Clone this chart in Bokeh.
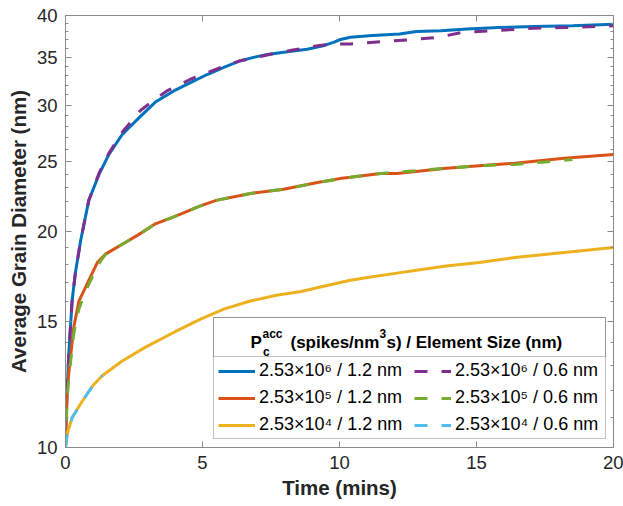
from bokeh.plotting import figure
from bokeh.models import (FixedTicker, LinearAxis, LogAxis, Legend, LegendItem, Label,
                          BoxAnnotation, NumeralTickFormatter, Range1d, CustomLabelingPolicy)
from bokeh.embed import file_html
from bokeh.resources import INLINE

# ---------------- data ----------------
t_blue = [0, 0.02, 0.06, 0.12, 0.24, 0.36, 0.55, 0.85, 1.22, 1.58, 2.07, 2.68, 3.28, 3.95, 4.6, 5.17,
          5.8, 6.39, 6.9, 7.36, 8.1, 8.82, 9.4, 9.78, 10.0, 10.4, 11.2, 12.2, 12.8, 13.7, 14.66, 15.8,
          17.1, 18.5, 20]
d_blue = [10, 10.8, 12.0, 13.5, 16.0, 17.5, 19.4, 22.1, 24.0, 25.6, 27.3, 28.8, 30.3, 31.4, 32.3, 33.1,
          33.9, 34.6, 35.0, 35.3, 35.6, 35.9, 36.3, 36.7, 37.0, 37.3, 37.5, 37.7, 38.0, 38.1, 38.3, 38.5,
          38.6, 38.7, 38.9]

t_purple = [0, 0.02, 0.06, 0.12, 0.24, 0.36, 0.55, 0.85, 1.22, 1.58, 2.07, 2.74, 3.28, 3.7, 4.56, 5.17,
            5.8, 6.39, 7.0, 7.6, 8.3, 9.2, 9.78, 10.0, 10.4, 11.6, 12.6, 13.6, 14.5, 15.6, 17.1, 18.5, 20]
d_purple = [10, 10.8, 12.0, 13.5, 16.0, 17.5, 19.4, 22.1, 24.1, 25.7, 27.5, 29.5, 30.6, 31.4, 32.6, 33.3,
            34.0, 34.6, 35.0, 35.4, 35.8, 36.3, 36.5, 36.5, 36.5, 36.8, 37.0, 37.3, 37.9, 38.1, 38.4, 38.5, 38.7]

t_red = [0, 0.02, 0.06, 0.12, 0.3, 0.49, 0.85, 1.16, 1.46, 2.07, 2.67, 3.28, 4.0, 4.9, 5.5, 6.75,
         7.96, 9.2, 10.0, 10.4, 11.5, 12.1, 13.9, 15.1, 16.4, 18.2, 20]
d_red = [10, 10.8, 11.9, 12.7, 14.7, 16.0, 17.1, 18.1, 18.6, 19.2, 19.8, 20.5, 21.0, 21.7, 22.1, 22.6,
         22.9, 23.4, 23.7, 23.8, 24.1, 24.1, 24.5, 24.7, 24.9, 25.3, 25.6]

t_green = [0, 0.02, 0.06, 0.12, 0.3, 0.49, 0.7, 0.95, 1.2, 1.46, 2.07, 2.67, 3.28, 4.0, 4.9, 5.5,
           6.75, 7.96, 9.2, 10.4, 11.5, 12.1, 13.9, 15.1, 16.4, 17.5, 18.5]
d_green = [10, 10.6, 11.7, 12.5, 14.4, 15.6, 16.4, 17.2, 18.0, 18.6, 19.2, 19.8, 20.5, 21.0, 21.7, 22.1,
           22.6, 22.9, 23.4, 23.8, 24.1, 24.2, 24.5, 24.7, 24.8, 25.0, 25.2]

t_yellow = [0, 0.02, 0.08, 0.24, 0.61, 1.0, 1.35, 2.07, 2.92, 4.0, 4.93, 5.8, 6.75, 7.7, 8.6, 9.5,
            10.4, 11.2, 12.1, 13.0, 13.9, 15.1, 16.4, 17.3, 18.2, 19.1, 20]
d_yellow = [10, 10.2, 10.5, 11.0, 11.6, 12.2, 12.6, 13.2, 13.8, 14.5, 15.1, 15.6, 16.0, 16.3, 16.5, 16.8,
            17.1, 17.3, 17.5, 17.7, 17.9, 18.1, 18.4, 18.55, 18.7, 18.85, 19.0]

t_cyan = [0, 0.02, 0.08, 0.24, 0.61, 1.0, 1.35]
d_cyan = [10, 10.2, 10.5, 11.0, 11.6, 12.2, 12.6]

labels = ["2.53×10⁶ / 1.2 nm", "2.53×10⁵ / 1.2 nm", "2.53×10⁴ / 1.2 nm",
          "2.53×10⁶ / 0.6 nm", "2.53×10⁵ / 0.6 nm", "2.53×10⁴ / 0.6 nm"]
x_ticks = [0, 5, 10, 15, 20]
y_ticks = [10, 15, 20, 25, 30, 35, 40]
y_minor = [v for v in range(11, 40) if v not in y_ticks]

# ---------------- figure ----------------
FONT = "Liberation Sans"
TXT = "#262626"
AX = "#8a8a8a"

p = figure(width=623, height=506, y_axis_type="log", x_range=Range1d(0, 20), y_range=Range1d(10, 40),
           output_backend="svg", toolbar_location=None,
           min_border_left=65, min_border_right=10, min_border_top=15, min_border_bottom=59)
p.outline_line_color = None
p.xgrid.visible = False
p.ygrid.visible = False
p.background_fill_color = "white"
p.border_fill_color = "white"

def style_axis(ax, show_labels=True):
    ax.axis_line_color = AX
    ax.major_tick_line_color = AX
    ax.minor_tick_line_color = AX
    ax.major_tick_in = 6
    ax.major_tick_out = 0
    ax.minor_tick_in = 3
    ax.minor_tick_out = 0
    ax.major_label_text_font = FONT
    ax.major_label_text_color = TXT
    ax.major_label_text_font_size = "18.5px" if show_labels else "1px"
    ax.axis_label_text_font = FONT
    ax.axis_label_text_font_style = "bold"
    ax.axis_label_text_color = TXT
    ax.axis_label_text_font_size = "20.5px"
    if not show_labels:
        ax.major_label_policy = CustomLabelingPolicy(code="""
            for (const i of Array.from(indices)) { indices.unset(i) }
            return indices
        """)
        ax.major_label_standoff = 0

p.xaxis.ticker = FixedTicker(ticks=x_ticks, minor_ticks=[])
p.yaxis.ticker = FixedTicker(ticks=y_ticks, minor_ticks=y_minor)
p.yaxis.formatter = NumeralTickFormatter(format="0")
style_axis(p.xaxis[0])
style_axis(p.yaxis[0])
p.xaxis.axis_label = "Time (mins)"
p.yaxis.axis_label = "Average Grain Diameter (nm)"
p.xaxis.major_label_standoff = 8
p.yaxis.major_label_standoff = 8
p.xaxis.axis_label_standoff = 4
p.yaxis.axis_label_standoff = 4

top = LinearAxis(ticker=FixedTicker(ticks=x_ticks, minor_ticks=[]))
style_axis(top, False)
p.add_layout(top, "above")
right = LogAxis(ticker=FixedTicker(ticks=y_ticks, minor_ticks=y_minor), formatter=NumeralTickFormatter(format="0"))
style_axis(right, False)
p.add_layout(right, "right")

# ---------------- lines ----------------
LW = 3
DASH = "13 14"
r1 = p.line(t_blue, d_blue, line_color="#0072BD", line_width=LW)
r2 = p.line(t_red, d_red, line_color="#D95319", line_width=LW)
r3 = p.line(t_yellow, d_yellow, line_color="#EDB120", line_width=LW)
r4 = p.line(t_purple, d_purple, line_color="#7E2F8E", line_width=LW, line_dash=DASH)
r5 = p.line(t_green, d_green, line_color="#77AC30", line_width=LW, line_dash=DASH)
r6 = p.line(t_cyan, d_cyan, line_color="#4DBEEE", line_width=LW, line_dash=DASH)

# ---------------- legend box ----------------
# screen units relative to the frame (origin bottom-left)
box = BoxAnnotation(left=148, right=540, bottom=9, top=130,
                    left_units="screen", right_units="screen", bottom_units="screen", top_units="screen",
                    fill_color="white", fill_alpha=1, line_color="#333333", line_width=1)
tbox = BoxAnnotation(left=148, right=540, bottom=91, top=130,
                     left_units="screen", right_units="screen", bottom_units="screen", top_units="screen",
                     fill_alpha=0, line_color="#333333", line_width=1)
p.add_layout(box)
p.add_layout(tbox)

def lab(x, y, text, size, bold=True):
    p.add_layout(Label(x=x, y=y, x_units="screen", y_units="screen", text=text,
                       text_font=FONT, text_font_size=size, text_font_style="bold" if bold else "normal",
                       text_color="black", text_baseline="alphabetic", text_align="left"))

lab(185, 105, "P", "17px")
lab(197, 114, "acc", "12px")
lab(197.5, 96, "c", "12px")
lab(225, 105, "(spikes/nm", "17px")
lab(314, 114, "3", "12px")
lab(321, 105, "s) / Element Size (nm)", "17px")

legend = Legend(items=[LegendItem(label=l, renderers=[r]) for l, r in zip(labels, [r1, r2, r3, r4, r5, r6])],
                location=(153, 12), orientation="vertical", nrows=3,
                glyph_width=37, glyph_height=20, label_standoff=4, spacing=6, padding=0, margin=0,
                label_width=149, label_height=20,
                border_line_alpha=0, background_fill_alpha=0,
                label_text_font=FONT, label_text_font_size="18px", label_text_color="black")
p.add_layout(legend)

open("out.html", "w").write(file_html(p, INLINE))
